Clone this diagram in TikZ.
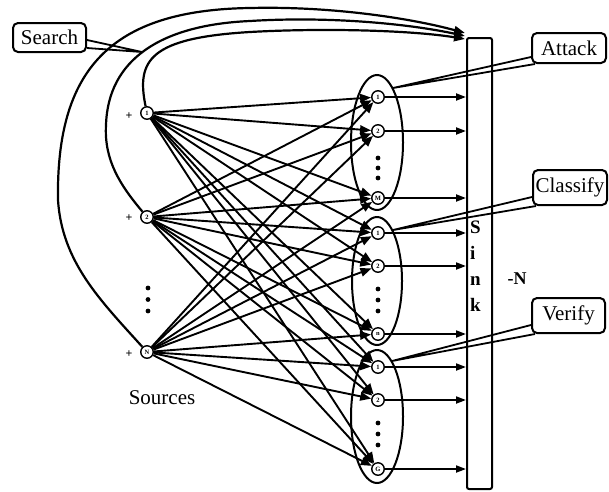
\documentclass[tikz,border=0pt]{standalone}
\usepackage{fontspec}
\setmainfont{Liberation Serif}
\usetikzlibrary{arrows.meta,calc,shapes.geometric}
\begin{document}
\begin{tikzpicture}[x=1pt,y=-1pt,
  pnode/.style={circle,draw,line width=1.4pt,fill=white,minimum size=12.5pt,inner sep=0pt,
    font=\fontsize{6.5}{6.5}\selectfont\bfseries},
  link/.style={line width=1.9pt,-{Triangle[length=11pt,width=8.5pt]}},
  tosink/.style={line width=1.9pt,-{Triangle[length=10pt,width=7pt]}},
  searchpath/.style={line width=2.2pt,-{Triangle[length=11pt,width=8pt]}},
  grp/.style={draw,line width=2pt},
  tag/.style={draw,line width=2pt,rounded corners=5pt,fill=white,
    font=\fontsize{21}{21}\selectfont,inner sep=1pt},
  callline/.style={line width=1.8pt},
  bigdot/.style={circle,fill,inner sep=0pt,minimum size=4.8pt},
  plus/.style={font=\fontsize{12}{12}\selectfont\bfseries,inner sep=0pt}
]
\useasboundingbox (0,0) rectangle (609,491);

% groups of workers
\draw[grp] (377,142.5) ellipse [x radius=26, y radius=67.5];
\draw[grp] (377,281) ellipse [x radius=25, y radius=64];
\draw[grp] (377,416.5) ellipse [x radius=26, y radius=66.5];

% sink
\node[draw,line width=2pt,minimum width=25pt,minimum height=451pt,rounded corners=2pt,inner sep=0pt]
  (sink) at (479.5,263.5) {};
\node[font=\fontsize{19}{26}\selectfont\bfseries,align=left,anchor=north west,inner sep=0pt]
  (sinklabel) at (470,221) {S\\i\\n\\k};
\node[font=\fontsize{18}{18}\selectfont\bfseries] (minusn) at (517,279) {-N};

% sources
\node[pnode] (s1) at (147,113) {1};
\node[pnode] (s2) at (147,217) {2};
\node[pnode] (sN) at (147,352) {N};
\node[plus] (p1) at (129,116) {+};
\node[plus] (p2) at (129,218) {+};
\node[plus] (p3) at (129,354) {+};
\node[bigdot] (sd1) at (148,288) {};
\node[bigdot] (sd2) at (148,299.5) {};
\node[bigdot] (sd3) at (148,311) {};
\node[font=\fontsize{21}{21}\selectfont] (sources) at (162,398) {Sources};

% workers
\node[pnode] (m1a) at (378,97) {1};
\node[pnode] (m1b) at (378,131) {2};
\node[pnode] (m1c) at (378,198) {M};
\node[pnode] (m2a) at (378,233) {1};
\node[pnode] (m2b) at (378,266) {2};
\node[pnode] (m2c) at (378,334) {n};
\node[pnode] (m3a) at (378,367) {1};
\node[pnode] (m3b) at (378,400) {2};
\node[pnode] (m3c) at (378,469) {G};
\foreach \y in {158,168,178,289,300,311,423,434,445}
  \node[bigdot] (gd\y) at (378,\y) {};

% source-to-worker links
\foreach \s in {s1,s2,sN}
  \foreach \t in {m1a,m1b,m1c,m2a,m2b,m2c,m3a,m3b,m3c}
    \draw[link] (\s) -- (\t);

% worker-to-sink links
\foreach \t in {m1a,m1b,m1c,m2a,m2b,m2c,m3a,m3b,m3c}
  \draw[tosink] (\t) -- (\t -| sink.west);

% search paths into the sink
\coordinate (k1) at ($(sink.north west)+(-1,-4)$);
\coordinate (k2) at ($(sink.north west)+(-1,-1)$);
\coordinate (k3) at ($(sink.north west)+(-1,2)$);
\draw[searchpath] (sN) .. controls (100,300) and (62,262) .. (58,200)
  .. controls (56,70) and (110,10) .. (250,8)
  .. controls (330,6) and (410,18) .. (k1);
\draw[searchpath] (s2) .. controls (120,185) and (104,160) .. (106,125)
  .. controls (108,60) and (160,25) .. (250,21)
  .. controls (330,16) and (410,24) .. (k2);
\draw[searchpath] (s1) .. controls (136,60) and (150,38) .. (250,32)
  .. controls (320,28) and (410,30) .. (k3);

% labels with pointers
\node[tag,minimum width=73pt,minimum height=29pt] (search) at (49.5,37.5) {Search};
\node[tag,minimum width=74pt,minimum height=30pt] (attack) at (569,48) {Attack};
\node[tag,minimum width=74pt,minimum height=35pt] (classify) at (570,187.5) {Classify};
\node[tag,minimum width=73pt,minimum height=35pt] (verify) at (568.5,315.5) {Verify};

\coordinate (stip) at (142,52);
\coordinate (atip) at (393,88);
\coordinate (ctip) at (393,230);
\coordinate (vtip) at (392,361);
\draw[callline] ($(search.south east)+(0,-13)$) -- (stip) -- ($(search.south east)+(0,-5)$);
\draw[callline] ($(attack.south west)+(0,-7)$) -- (atip) -- ($(attack.south west)+(4,0)$);
\draw[callline] ($(classify.south west)+(0,-9)$) -- (ctip) -- ($(classify.south west)+(4,0)$);
\draw[callline] ($(verify.south west)+(0,-9)$) -- (vtip) -- ($(verify.south west)+(4,0)$);
\end{tikzpicture}
\end{document}
